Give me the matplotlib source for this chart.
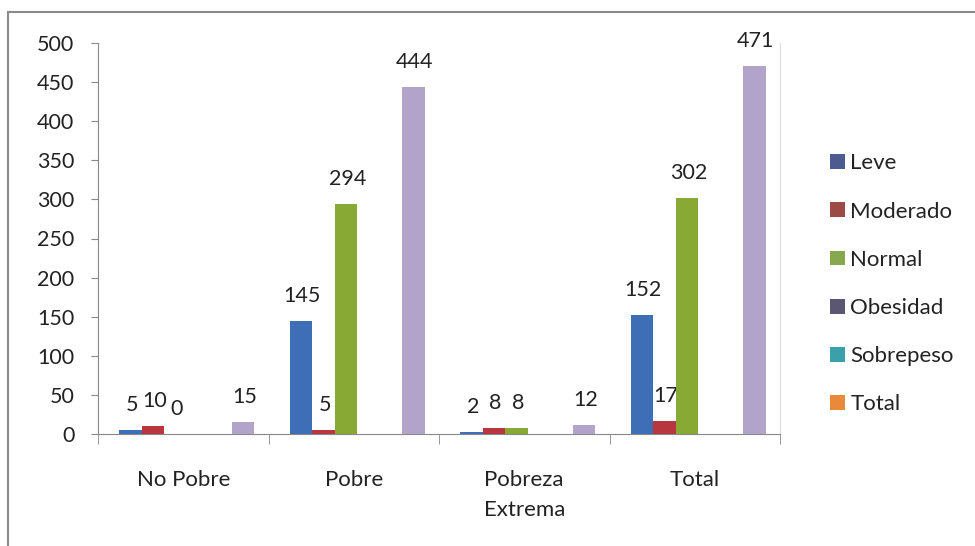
import matplotlib.pyplot as plt
import numpy as np
from matplotlib.patches import Patch
from matplotlib.lines import Line2D

plt.rcParams['font.family'] = ['Lato', 'DejaVu Sans']

categories = ['No Pobre', 'Pobre', 'Pobreza\nExtrema', 'Total']
series = ['Leve', 'Moderado', 'Normal', 'Obesidad', 'Sobrepeso', 'Total']

leve = [5, 145, 2, 152]
moderado = [10, 5, 8, 17]
normal = [0, 294, 8, 302]
obesidad = [0, 0, 0, 0]
sobrepeso = [0, 0, 0, 0]
total = [15, 444, 12, 471]

values = [leve, moderado, normal, obesidad, sobrepeso, total]
labelled = [True, True, True, False, False, True]

bar_colors = ['#3e6fb6', '#b8373f', '#88a934', '#5b5672', '#3aa3ad', '#b2a3cb']
legend_colors = ['#4d5c90', '#9c4a45', '#87a84f', '#5b5672', '#3aa1aa', '#e8893c']

fig = plt.figure(figsize=(9.75, 5.46), dpi=100)
ax = fig.add_axes([98 / 975, 1 - 434 / 546, 682 / 975, 391 / 546])

x = np.arange(len(categories))
width = 0.132
n = len(series)
for i, (vals, col) in enumerate(zip(values, bar_colors)):
    pos = x + (i - (n - 1) / 2) * width + 0.02
    bars = ax.bar(pos, vals, width, color=col, linewidth=0, zorder=3)
    if labelled[i]:
        for b, v in zip(bars, vals):
            ax.annotate(str(v), (b.get_x() + b.get_width() / 2, v),
                        xytext=(1, 18), textcoords='offset points',
                        ha='center', va='center', fontsize=15.5, color='#222222')

ax.set_xlim(-0.5, 3.5)
ax.set_ylim(0, 500)
ax.set_yticks(np.arange(0, 501, 50))
ax.set_xticks(x)
ax.set_xticklabels(categories, fontsize=16, color='#222222', va='top', linespacing=1.6)
ax.set_xticks(np.arange(-0.5, 3.6, 1), minor=True)
ax.tick_params(axis='x', which='major', length=0, pad=26)
ax.tick_params(axis='x', which='minor', length=7, color='#888888', direction='out')
ax.tick_params(axis='y', length=5, color='#888888', direction='out', pad=12,
               labelsize=15.5, labelcolor='#222222')

ax.spines['top'].set_visible(False)
ax.spines['right'].set_color('#dddddd')
ax.spines['left'].set_color('#888888')
ax.spines['bottom'].set_color('#888888')

handles = [Patch(facecolor=c, edgecolor='none') for c in legend_colors]
fig.legend(handles, series, loc='center left', bbox_to_anchor=(0.831, 0.48),
           frameon=False, fontsize=16, handlelength=0.65, handleheight=0.65,
           handletextpad=0.25, labelspacing=1.27, labelcolor='#222222')

# outer chart frame
fig.add_artist(Line2D([8 / 975, 8 / 975], [0, 1 - 12 / 546], color='#8a8a8a', lw=1.5,
                      transform=fig.transFigure))
fig.add_artist(Line2D([8 / 975, 1], [1 - 12 / 546, 1 - 12 / 546], color='#8a8a8a', lw=1.5,
                      transform=fig.transFigure))

fig.savefig('out.png', dpi=100)
